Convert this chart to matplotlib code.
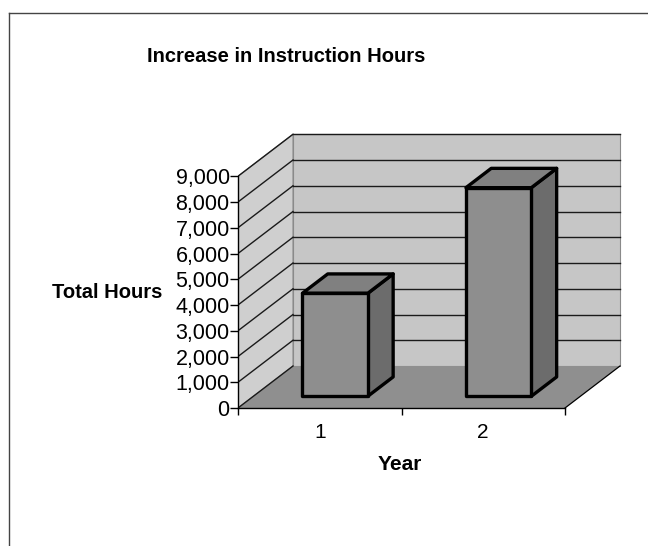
import matplotlib
matplotlib.use("Agg")
import matplotlib.pyplot as plt
from matplotlib.patches import Polygon
from matplotlib.lines import Line2D
from matplotlib.ticker import FuncFormatter, FixedLocator

plt.rcParams['font.family'] = ['Liberation Sans', 'DejaVu Sans']

# ---- data ----
years = ['1', '2']
hours = [4000, 8100]
yticks = [0, 1000, 2000, 3000, 4000, 5000, 6000, 7000, 8000, 9000]
title = "Increase in Instruction Hours"
xlabel = "Year"
ylabel = "Total Hours"

# ---- figure / axes ----
W, H, DPI = 648, 546, 100
fig = plt.figure(figsize=(W / DPI, H / DPI), dpi=DPI)
fig.patch.set_facecolor('white')

px_left, px_right = 238, 622
px_bottom, px_top = 408, 128
cat_px = 163.5          # pixels per category
val_px = 25.75 / 1000   # pixels per value unit
xlim = (0, (px_right - px_left) / cat_px)
ylim = (0, (px_bottom - px_top) / val_px)
ax = fig.add_axes([px_left / W, 1 - px_bottom / H,
                   (px_right - px_left) / W, (px_bottom - px_top) / H])
ax.set_xlim(*xlim)
ax.set_ylim(*ylim)
ax.patch.set_visible(False)

ymax = yticks[-1]
ncat = len(years)
DX = 55 / cat_px        # depth offset in category units
DY = 42 / val_px        # depth offset in value units


def P(x, v, d):
    return (x + d * DX, v + d * DY)


wall_c = '#c6c6c6'
floor_c = '#8f8f8f'

# back wall
ax.add_patch(Polygon([P(0, 0, 1), P(ncat, 0, 1), P(ncat, ymax, 1), P(0, ymax, 1)],
                     closed=True, fc=wall_c, ec='#8a8a8a', lw=0.8, zorder=1))
# side wall
ax.add_patch(Polygon([P(0, 0, 0), P(0, 0, 1), P(0, ymax, 1), P(0, ymax, 0)],
                     closed=True, fc='#cfcfcf', ec='#8a8a8a', lw=0.8, zorder=1))
# floor
ax.add_patch(Polygon([P(0, 0, 0), P(ncat, 0, 0), P(ncat, 0, 1), P(0, 0, 1)],
                     closed=True, fc=floor_c, ec='none', lw=0, zorder=2))
ax.plot(*zip(P(ncat, 0, 0), P(ncat, 0, 1)), color='black', lw=0.9, zorder=3)

# gridlines
for v in yticks[1:]:
    ax.plot(*zip(P(0, v, 1), P(ncat, v, 1)), color='#1a1a1a', lw=1.0, zorder=2)
for v in yticks:
    ax.plot(*zip(P(0, v, 0), P(0, v, 1)), color='#1a1a1a', lw=1.0, zorder=2)

# bars
bw = 0.4
d0, d1 = 0.28, 0.74
for i, val in enumerate(hours):
    c = i + 0.5
    xl, xr = c - bw / 2, c + bw / 2
    front = [P(xl, 0, d0), P(xr, 0, d0), P(xr, val, d0), P(xl, val, d0)]
    top = [P(xl, val, d0), P(xr, val, d0), P(xr, val, d1), P(xl, val, d1)]
    side = [P(xr, 0, d0), P(xr, 0, d1), P(xr, val, d1), P(xr, val, d0)]
    kw = dict(closed=True, ec='black', lw=2.4, joinstyle='round', zorder=5)
    ax.add_patch(Polygon(side, fc='#6c6c6c', **kw))
    ax.add_patch(Polygon(top, fc='#808080', **kw))
    ax.add_patch(Polygon(front, fc='#8e8e8e', **kw))

# axes / ticks
for s in ['top', 'right']:
    ax.spines[s].set_visible(False)
ax.spines['left'].set_bounds(0, ymax)
ax.spines['bottom'].set_bounds(0, ncat)
ax.spines['left'].set_linewidth(1.0)
ax.spines['bottom'].set_linewidth(1.0)
ax.spines['left'].set_zorder(6)
ax.spines['bottom'].set_zorder(6)

ax.yaxis.set_major_locator(FixedLocator(yticks))
ax.yaxis.set_major_formatter(FuncFormatter(lambda v, p: f"{int(v):,}"))
ax.tick_params(axis='y', direction='out', length=5.5, width=1, pad=0.5,
               labelsize=15.5, colors='black')

ax.xaxis.set_major_locator(FixedLocator(list(range(ncat + 1))))
ax.xaxis.set_major_formatter(FuncFormatter(lambda v, p: ''))
ax.set_xticks([i + 0.5 for i in range(ncat)], minor=True)
ax.set_xticklabels(years, minor=True)
ax.tick_params(axis='x', which='major', direction='out', length=5, width=1)
ax.tick_params(axis='x', which='minor', length=0, pad=10.5, labelsize=15)

# texts
fig.text(286 / W, 1 - 57 / H, title, ha='center', va='center',
         fontsize=14.5, fontweight='bold')
fig.text(107 / W, 1 - 293 / H, ylabel, ha='center', va='center',
         fontsize=14.5, fontweight='bold')
fig.text(400 / W, 1 - 465 / H, xlabel, ha='center', va='center',
         fontsize=15, fontweight='bold')

# chart-area border (left & top)
fig.add_artist(Line2D([9 / W, 9 / W], [0, 1 - 13 / H], transform=fig.transFigure,
                      color='#444444', lw=1.0))
fig.add_artist(Line2D([9 / W, 1], [1 - 13 / H, 1 - 13 / H], transform=fig.transFigure,
                      color='#444444', lw=1.0))

fig.savefig('out.png', dpi=DPI)
